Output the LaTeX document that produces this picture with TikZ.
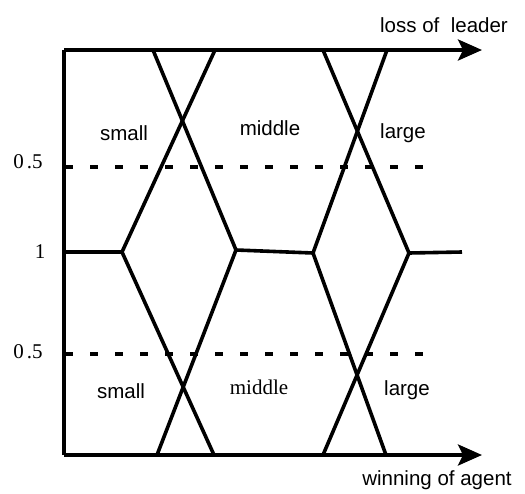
\documentclass[tikz,border=0pt]{standalone}
\usepackage{fontspec}
\setmainfont{Liberation Sans}
\newfontfamily\serifface{Liberation Serif}
\usetikzlibrary{arrows.meta}
\begin{document}
\begin{tikzpicture}[x=1pt,y=-1pt,
  curve/.style={line width=3.6pt,line join=miter},
  axis/.style={line width=3.8pt},
  axisarrow/.style={line width=3.8pt,-{Stealth[length=24pt,width=21pt,inset=5pt]}},
  dashline/.style={line width=4pt,dash pattern=on 8pt off 17pt},
  sanslbl/.style={font=\fontsize{20.5}{24}\selectfont,inner sep=0pt},
  seriflbl/.style={font=\serifface\fontsize{21}{24}\selectfont,inner sep=0pt}]
\useasboundingbox (0,0) rectangle (525,493);
% axes
\coordinate (O) at (64,455);
\coordinate (T) at (64,50);
\coordinate (Tend) at (482,50);
\coordinate (Bend) at (482,455);
\draw[axis] (O) -- (T);
\draw[axisarrow] (T) -- (Tend);
\draw[axisarrow] (O) -- (Bend);
% dashed 0.5 levels
\coordinate (d1a) at (65,167); \coordinate (d1b) at (430,167);
\coordinate (d2a) at (65,354); \coordinate (d2b) at (430,354);
\draw[dashline] (d1a) -- (d1b);
\draw[dashline] (d2a) -- (d2b);
% vertices on the level 1 line
\coordinate (m0) at (64,252);
\coordinate (m1) at (122,252);
\coordinate (m2) at (236,250);
\coordinate (m3) at (313,253);
\coordinate (m4) at (409,253);
\coordinate (m5) at (462,252);
% ends on the axes
\coordinate (t1) at (153,50); \coordinate (t2) at (215,50);
\coordinate (t3) at (323,50); \coordinate (t4) at (387,50);
\coordinate (b1) at (157,455); \coordinate (b2) at (214,455);
\coordinate (b3) at (323,455); \coordinate (b4) at (386,455);
\draw[curve] (m0) -- (m1);
\draw[curve] (t2) -- (m1) -- (b2);
\draw[curve] (t1) -- (m2) -- (b1);
\draw[curve] (m2) -- (m3);
\draw[curve] (t4) -- (m3) -- (b4);
\draw[curve] (t3) -- (m4) -- (b3);
\draw[curve] (m4) -- (m5);
% labels
\node[sanslbl] (lol) at (444,25) {loss of\ \ leader};
\node[sanslbl] (woa) at (437,480) {winning of agent};
\node[sanslbl] (s1) at (124,133) {small};
\node[sanslbl] (mid1) at (270,128) {middle};
\node[sanslbl] (l1) at (403,133) {large};
\node[sanslbl] (s2) at (121,391) {small};
\node[seriflbl] (mid2) at (259,387) {middle};
\node[sanslbl] (l2) at (407,390) {large};
\node[seriflbl] (h1) at (28,162) {0\kern3pt.5};
\node[seriflbl] (one) at (40,252) {1};
\node[seriflbl] (h2) at (28,352) {0\kern3pt.5};
\end{tikzpicture}
\end{document}
